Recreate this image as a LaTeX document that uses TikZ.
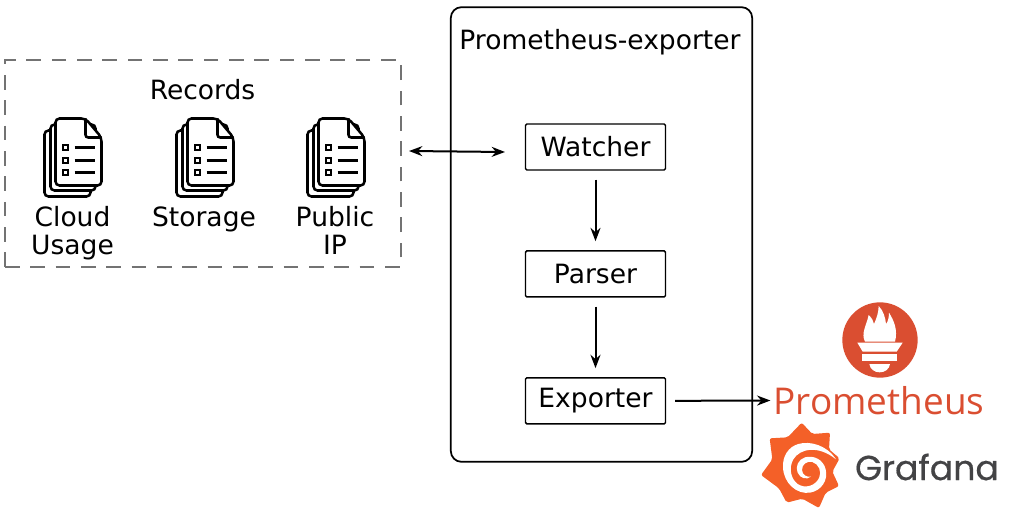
\documentclass[tikz,border=0pt]{standalone}
\usepackage{fontspec}
\setmainfont{DejaVu Sans}
\newfontfamily\promfont{Open Sans}
\newfontfamily\graffont[FakeBold=0.5]{Poppins}
\usetikzlibrary{arrows.meta, positioning}
\definecolor{promred}{HTML}{DA4E31}
\definecolor{grafred}{HTML}{F46028}
\definecolor{grafgray}{HTML}{434345}
\tikzset{
  blockbox/.style={draw, line width=1.1pt, rounded corners=1pt, minimum width=105pt, minimum height=34.5pt, inner sep=0pt, font=\fontsize{19.9}{24}\selectfont},
  doclabel/.style={align=center, inner sep=0pt, anchor=base, font=\fontsize{19.9}{21}\selectfont},
  flow/.style={-{Stealth[length=10pt, width=7.5pt]}, line width=1.5pt},
  docicon/.pic={
    \draw[line width=1.9pt, rounded corners=3pt, fill=white] (0,12) rectangle (46,78);
    \draw[line width=1.9pt, rounded corners=3pt, fill=white] (6,6) rectangle (51,72);
    \draw[line width=1.9pt, rounded corners=3pt, fill=white] (11,0) -- (41,0) -- (57,19) -- (57,67) -- (11,67) -- cycle;
    \draw[line width=1.9pt, rounded corners=2pt] (41,0) -- (41,19) -- (57,19);
    \foreach \dy in {29,42,54} {
      \draw[line width=1.7pt] (18.5,\dy-2.5) rectangle (23.5,\dy+2.5);
      \draw[line width=1.9pt] (30,\dy) -- (50,\dy);
    }
  }
}
\begin{document}
\begin{tikzpicture}[x=0.75pt, y=-0.75pt]
\useasboundingbox (0,0) rectangle (1011,517);

% records side
\node[draw=black!55, dash pattern=on 11pt off 8pt, line width=1.5pt, minimum width=396*0.75pt, minimum height=206.5*0.75pt, inner sep=0pt] (records) at (203,163.5) {};
\node[font=\fontsize{19.9}{24}\selectfont] (recordstitle) at (202.5,90) {Records};
\pic at (44.5,118.5) {docicon};
\pic at (176.5,118.5) {docicon};
\pic at (307.5,118.5) {docicon};
\node[doclabel] (cloud) at (72.5,254) {Cloud\\Usage};
\node[doclabel] (storage) at (204,226) {Storage};
\node[doclabel] (public) at (335,254) {Public\\IP};

% exporter
\node[draw, line width=1.3pt, rounded corners=8pt, minimum width=226pt, minimum height=341pt, inner sep=0pt] (exporter) at (601.5,234.5) {};
\node[font=\fontsize{19.9}{24}\selectfont] (exportertitle) at (600,42.5) {Prometheus-exporter};
\node[blockbox] (watcher) at (595.5,147) {Watcher};
\node[blockbox, below=59.6pt of watcher] (parser) {Parser};
\node[blockbox, below=59.6pt of parser] (export) {Exporter};

% logos
\node[inner sep=0pt, text=promred, font=\promfont\fontsize{27.7}{32}\selectfont] (promtext) at (879,400.5) {Prometheus};
\node[inner sep=0pt, text=grafgray, font=\graffont\fontsize{26}{30}\selectfont] (graftext) at (927,467) {Grafana};

\begin{scope}[shift={(840,300)}, x=0.25pt, y=-0.25pt]
\fill[promred] (120,120) circle (113);
\fill[white] (75,125) .. controls (62,100) and (80,75) .. (86,45) .. controls (96,55) and (100,62) .. (102,72) .. controls (110,55) and (116,35) .. (116,18) .. controls (130,32) and (136,52) .. (138,72) .. controls (144,65) and (147,52) .. (147,38) .. controls (162,62) and (174,90) .. (165,125) -- cycle;
\fill[white] (52,128) -- (188,128) -- (170,155) -- (68,155) -- cycle;
\fill[white] (67,163) rectangle (172,183);
\fill[white] (88,192) -- (150,192) .. controls (148,208) and (134,217) .. (119,217) .. controls (104,217) and (90,208) .. (88,192) -- cycle;
\end{scope}

\begin{scope}[shift={(755,420)}, x=0.25pt, y=-0.25pt]
\fill[grafred, rounded corners=1.5pt] (140,8) -- (172,42) -- (225,38) -- (222,88) -- (254,115) -- (232,155) -- (252,198) -- (212,218) -- (192,264) -- (142,236) -- (95,248) -- (72,205) -- (18,165) -- (52,118) -- (44,55) -- (98,52) -- cycle;
\fill[white] (243,118) .. controls (215,75) and (165,62) .. (130,72) .. controls (100,80) and (82,110) .. (84,142) .. controls (86,190) and (125,224) .. (165,218) .. controls (200,212) and (220,180) .. (212,148) .. controls (205,118) and (175,105) .. (150,112) .. controls (130,118) and (120,140) .. (128,158) .. controls (136,176) and (155,180) .. (168,170) .. controls (155,172) and (142,165) .. (141,150) .. controls (140,132) and (158,122) .. (172,126) .. controls (192,132) and (200,155) .. (193,172) .. controls (182,198) and (150,207) .. (128,192) .. controls (108,177) and (100,145) .. (115,118) .. controls (135,85) and (190,75) .. (243,118) -- cycle;
\end{scope}

% connectors
\coordinate (reclink) at (409,151);
\coordinate (watchlink) at (505,152);
\draw[{Stealth[length=10pt, width=7.5pt]}-{Stealth[length=10pt, width=7.5pt]}, line width=1.5pt] (reclink) -- (watchlink);
\draw[flow, shorten <=9*0.75pt, shorten >=9*0.75pt] (watcher) -- (parser);
\draw[flow, shorten <=9*0.75pt, shorten >=9*0.75pt] (parser) -- (export);
\draw[flow, shorten <=9*0.75pt, shorten >=3*0.75pt] (export.east) -- (promtext.west);
\end{tikzpicture}
\end{document}
